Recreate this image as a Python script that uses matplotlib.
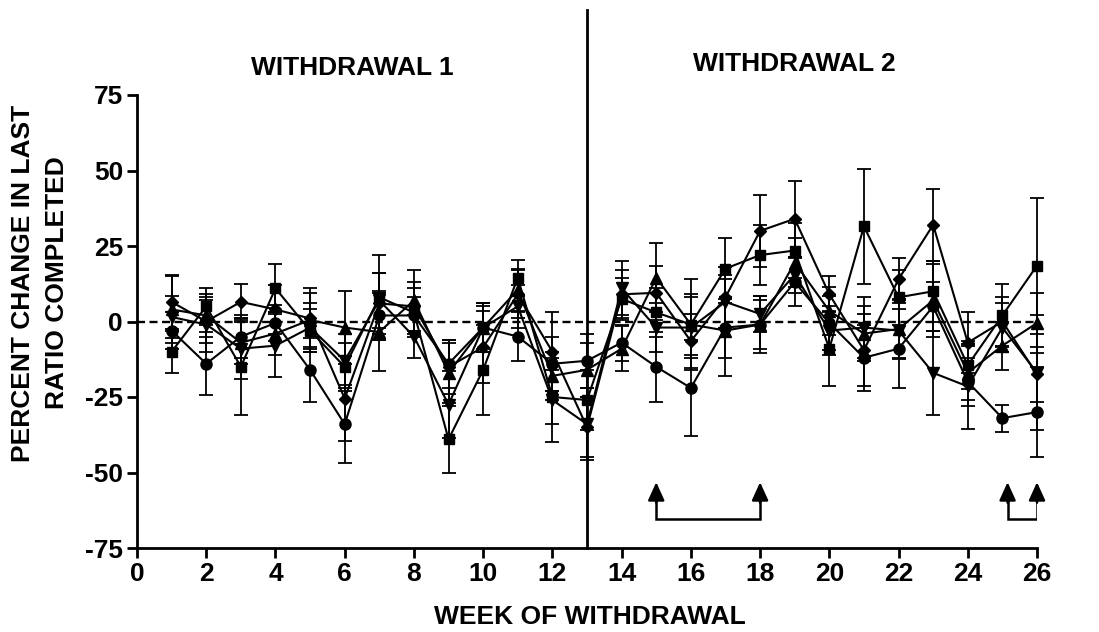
import matplotlib
matplotlib.use("Agg")
import matplotlib.pyplot as plt
import numpy as np

plt.rcParams['font.family'] = ['Liberation Sans', 'DejaVu Sans']
plt.rcParams['font.weight'] = 'bold'
plt.rcParams['axes.unicode_minus'] = False

weeks = list(range(1, 27))

circle_vals = [-3, -14, -5, -0.5, -16, -34, 2, 2, -14, -2, -5, -14, -13,
               -7, -15, -22, -2, -1, 13, -0.5, -12, -9, 5, -20, -32, -30]
circle_err = [6, 10.5, 7, 6, 10.5, 13, 8, 6, 8, 7, 8, 9, 9,
              6, 11.5, 16, 16, 9.5, 8, 9, 11, 13, 8, 8, 4.5, 15]

square_vals = [-10, 5, -15, 11, -3, -15, 8, 3, -39, -16, 14.5, -25, -26,
               7.5, 3, -1, 17.5, 22, 23.5, -9, 31.5, 8, 10, -14.5, 2, 18.5]
square_err = [7, 6, 16, 8, 7, 8, 14, 8, 11, 15, 6, 9, 10,
              7, 8, 15, 10, 10, 9, 12.5, 19, 9, 10, 8, 10.5, 22.5]

uptri_vals = [4, 2, -7, -4, 0.5, -2, -3.5, 7, -17, -2, 10.5, -18, -16,
              -9, 14.5, -1, -3, -1, 19.5, 3.5, -4, -2.5, 7, -17, -8, -0.5]
uptri_err = [11, 7, 7, 7, 9, 12, 13, 10, 10, 8, 7, 8, 9,
             7.5, 11.5, 10, 9, 8, 8, 8, 9, 10, 12, 9, 8, 10]

downtri_vals = [1.5, -1, -9, -8, -2, -13, 7, -5, -27.5, -2, 5, -26, -34,
                11, -2, -2, 6.5, 2.5, 15.5, -3, -2, -3, -17, -21.5, -2, -17]
downtri_err = [7, 9, 10, 10.5, 8, 9, 9, 7, 11, 8, 7, 14, 12,
               9, 8, 10, 9, 6, 6, 8, 10, 9, 14, 14, 8, 19]

diamond_vals = [6.5, 0, 6.5, 4, 1, -25.5, 6, 5, -15, -8.5, 9, -10, -35,
                9, 9.5, -6.5, 8, 30, 34, 9, -9.5, 14, 32, -7, 0, -17.5]
diamond_err = [9, 7, 6, 8, 10, 14, 10, 8, 9, 12, 8, 13, 10,
               8, 9, 9, 10, 12, 12.5, 6, 12, 7, 12, 10, 8, 9]

series = [
    (circle_vals, circle_err, 'o', 8),
    (square_vals, square_err, 's', 7.5),
    (uptri_vals, uptri_err, '^', 8.5),
    (downtri_vals, downtri_err, 'v', 8.5),
    (diamond_vals, diamond_err, 'D', 6.5),
]

arrow_weeks_a = [15, 18]
arrow_weeks_b = [25.15, 26]
xticks = list(range(0, 27, 2))
yticks = [-75, -50, -25, 0, 25, 50, 75]

fig = plt.figure(figsize=(10.99, 6.32), dpi=100)
ax = fig.add_axes([137/1099, 1 - 548/632, 900/1099, 453/632])

ax.plot([0, 26], [0, 0], color='black', lw=1.7, ls=(0, (3.4, 1.9)), zorder=1)

for vals, err, mk, ms in series:
    ax.errorbar(weeks, vals, yerr=err, color='black', marker=mk, ms=ms,
                lw=1.5, elinewidth=1.3, capsize=5, capthick=1.3,
                markeredgecolor='black', markerfacecolor='black', zorder=3,
                clip_on=False)

ax.plot([13, 13], [-75, 103], color='black', lw=2, clip_on=False, zorder=4)

def bracket(xs):
    y_low, y_tip = -65.3, -53.2
    ax.plot([xs[0], xs[0], xs[1], xs[1]], [-58, y_low, y_low, -58],
            color='black', lw=1.8, zorder=4, solid_joinstyle='miter')
    for x in xs:
        ax.annotate('', xy=(x, y_tip), xytext=(x, -60),
                    arrowprops=dict(arrowstyle='-|>,head_length=1.1,head_width=0.5',
                                    color='black', lw=1.8, shrinkA=0, shrinkB=0))

bracket(arrow_weeks_a)
bracket(arrow_weeks_b)

ax.text(6.21, 84.1, 'WITHDRAWAL 1', ha='center', va='center', fontsize=19,
        fontweight='bold')
ax.text(18.98, 85.1, 'WITHDRAWAL 2', ha='center', va='center', fontsize=19,
        fontweight='bold')

ax.set_xlim(0, 26)
ax.set_ylim(-75, 75)
ax.set_xticks(xticks)
ax.set_yticks(yticks)
ax.spines['top'].set_visible(False)
ax.spines['right'].set_visible(False)
ax.spines['left'].set_linewidth(2)
ax.spines['bottom'].set_linewidth(2)
ax.tick_params(axis='both', direction='out', length=7, width=2, labelsize=19,
               pad=3)
for lab in ax.get_xticklabels() + ax.get_yticklabels():
    lab.set_fontweight('bold')

fig.text(590/1099, 1 - 617/632, 'WEEK OF WITHDRAWAL', ha='center', va='center',
         fontsize=19, fontweight='bold')
fig.text(23/1099, 1 - 283/632, 'PERCENT CHANGE IN LAST', ha='center',
         va='center', rotation=90, fontsize=19, fontweight='bold')
fig.text(57/1099, 1 - 283/632, 'RATIO COMPLETED', ha='center',
         va='center', rotation=90, fontsize=19, fontweight='bold')

fig.savefig('out.png', dpi=100)
